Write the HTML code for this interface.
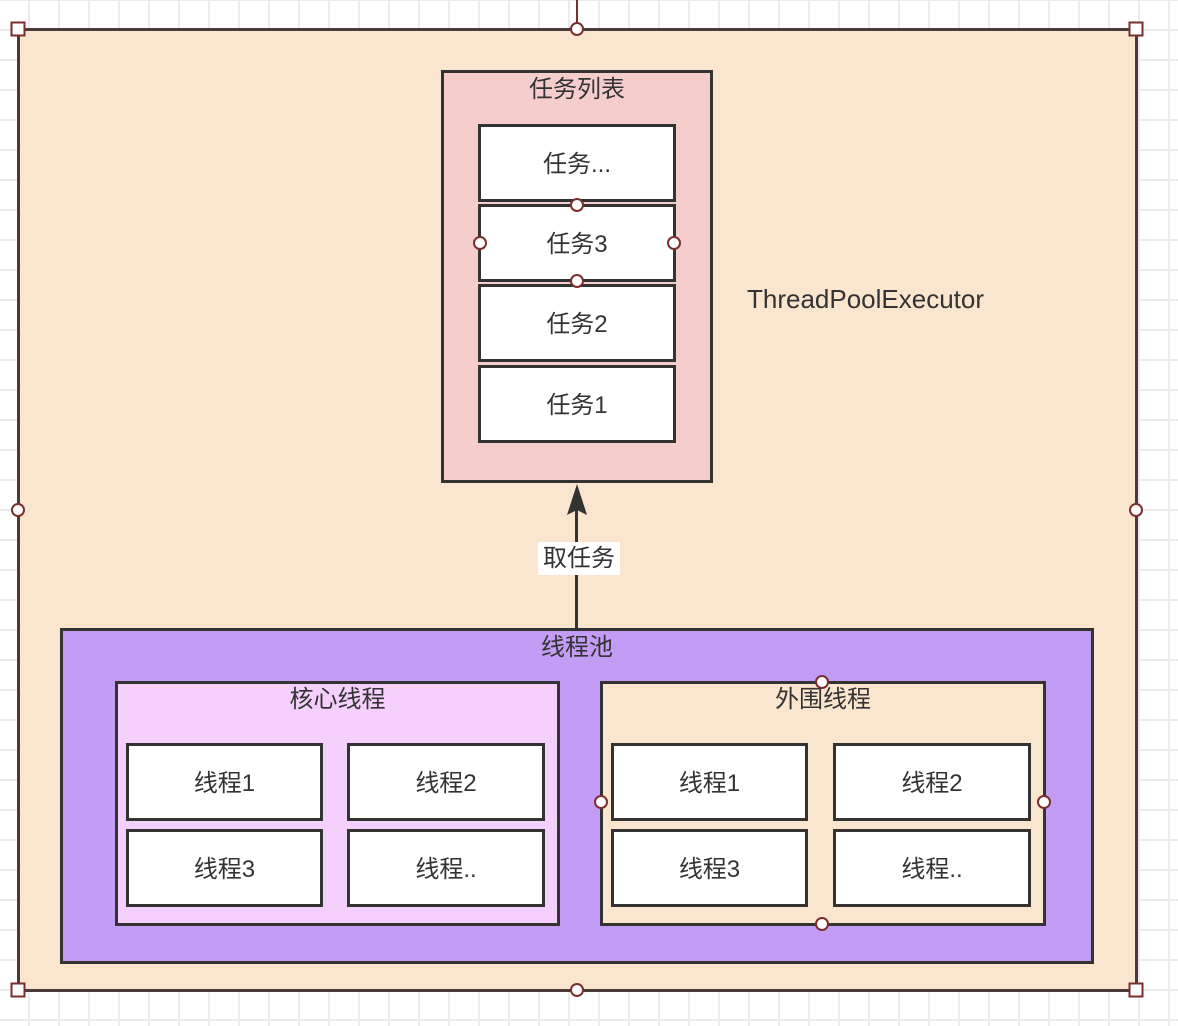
<!DOCTYPE html>
<html><head><meta charset="utf-8"><style>
body{margin:0;width:1178px;height:1026px;position:relative;overflow:hidden;background:#fff;
background-image:linear-gradient(#ececec 2px,transparent 2px),linear-gradient(90deg,#ececec 2px,transparent 2px);
background-size:30px 30px;background-position:0 -1px,-2px 0;
font-family:"Liberation Sans","Noto Sans CJK SC",sans-serif;color:#333}
.b{position:absolute;box-sizing:border-box;border:3px solid #333}
.w{background:#fff;display:flex;align-items:center;justify-content:center;font-size:24px;padding-bottom:3px}
.t{position:absolute;font-size:24px;text-align:center;left:0;right:0}
.h{position:absolute;width:14px;height:14px;border:2px solid #7a2e2e;background:#fff;box-sizing:border-box;border-radius:50%;transform:translate(-50%,-50%)}
.s{position:absolute;width:15px;height:15px;border:2px solid #7a2e2e;background:#fff;box-sizing:border-box;transform:translate(-50%,-50%)}
</style></head><body>
<div style="position:absolute;left:576px;top:0;width:1.5px;height:29px;background:#7a2e2e"></div>
<div class="b" style="left:17px;top:28px;width:1121px;height:964px;background:#fae5cf;border-color:#4a3a3a"></div>
<div class="b" style="left:441px;top:70px;width:272px;height:413px;background:#f6cdcd"><div class="t" style="top:-4px">任务列表</div></div>
<div class="b w" style="left:478px;top:124px;width:198px;height:78px">任务...</div>
<div class="b w" style="left:478px;top:204px;width:198px;height:78px">任务3</div>
<div class="b w" style="left:478px;top:284px;width:198px;height:78px">任务2</div>
<div class="b w" style="left:478px;top:365px;width:198px;height:78px">任务1</div>
<div style="position:absolute;left:747px;top:284px;font-size:26px;color:#333">ThreadPoolExecutor</div>
<div style="position:absolute;left:575px;top:510px;width:3px;height:119px;background:#333"></div>
<svg style="position:absolute;left:566px;top:484px" width="22" height="32"><polygon points="11,0 21,31 11,26 1,31" fill="#333"/></svg>
<div style="position:absolute;left:538px;top:542px;width:82px;height:33px;background:#fff;font-size:24px;text-align:center;line-height:33px">取任务</div>
<div class="b" style="left:60px;top:628px;width:1034px;height:336px;background:#c29cf5"><div class="t" style="top:-4px">线程池</div></div>
<div class="b" style="left:115px;top:681px;width:445px;height:245px;background:#f5d0fc"><div class="t" style="top:-5px">核心线程</div></div>
<div class="b" style="left:600px;top:681px;width:446px;height:245px;background:#fae5cf"><div class="t" style="top:-5px">外围线程</div></div>
<div class="b w" style="left:126px;top:743px;width:197px;height:78px">线程1</div>
<div class="b w" style="left:347px;top:743px;width:198px;height:78px">线程2</div>
<div class="b w" style="left:126px;top:829px;width:197px;height:78px">线程3</div>
<div class="b w" style="left:347px;top:829px;width:198px;height:78px">线程..</div>
<div class="b w" style="left:611px;top:743px;width:197px;height:78px">线程1</div>
<div class="b w" style="left:833px;top:743px;width:198px;height:78px">线程2</div>
<div class="b w" style="left:611px;top:829px;width:197px;height:78px">线程3</div>
<div class="b w" style="left:833px;top:829px;width:198px;height:78px">线程..</div>
<div class="s" style="left:18px;top:29px"></div><div class="s" style="left:1136px;top:29px"></div>
<div class="s" style="left:18px;top:990px"></div><div class="s" style="left:1136px;top:990px"></div>
<div class="h" style="left:577px;top:29px"></div><div class="h" style="left:577px;top:990px"></div>
<div class="h" style="left:18px;top:510px"></div><div class="h" style="left:1136px;top:510px"></div>
<div class="h" style="left:577px;top:205px"></div><div class="h" style="left:577px;top:281px"></div>
<div class="h" style="left:480px;top:243px"></div><div class="h" style="left:674px;top:243px"></div>
<div class="h" style="left:822px;top:682px"></div><div class="h" style="left:822px;top:924px"></div>
<div class="h" style="left:601px;top:802px"></div><div class="h" style="left:1044px;top:802px"></div>
</body></html>
